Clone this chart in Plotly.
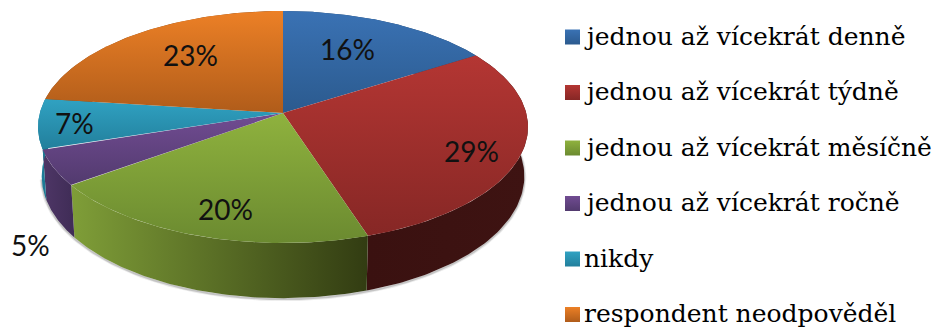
import numpy as np
import plotly.graph_objects as go

categories = ["jednou až vícekrát denně", "jednou až vícekrát týdně", "jednou až vícekrát měsíčně",
              "jednou až vícekrát ročně", "nikdy", "respondent neodpověděl"]
values = [16, 29, 20, 5, 7, 23]
top_light = ["#3a72b4", "#b43633", "#8fb23e", "#714c92", "#30a2c2", "#ec8026"]
top_dark = ["#2b5a8e", "#862725", "#6b8a30", "#523a6e", "#227f9c", "#b05c1a"]
side_left = ["#20446c", "#3a1110", "#7f9e38", "#4e3666", "#1f86a2", "#8a4814"]
side_right = ["#20446c", "#3e1312", "#323c12", "#3f2c56", "#1a7088", "#8a4814"]
label_positions = [(347, 49), (471, 151), (225, 209), (30, 245), (74, 123), (190, 55)]

W, H = 936, 329
CX, CY, A, B, K, DEPTH, BOTTOM_SCALE = 283.0, 113.0, 243.2, 114.3, 0.1207, 48.5, 0.985


def project(theta, lower=False):
    u, v = np.sin(theta), np.cos(theta)
    w = 1 + K * v
    if lower:
        return CX + BOTTOM_SCALE * A * u / w, CY - B * v / w + DEPTH / w
    return CX + A * u / w, CY - B * v / w


fig = go.Figure()
edges = np.radians(np.concatenate([[0], np.cumsum(values)]) * 360 / sum(values))
arcs = [np.linspace(edges[i], edges[i + 1], 90) for i in range(len(values))]

# soft shadow below the rim
shadow_theta = np.linspace(np.radians(85), np.radians(262), 200)
sx, sy = project(shadow_theta, lower=True)
for width, alpha in [(4, 0.10), (2, 0.22)]:
    fig.add_trace(go.Scatter(x=sx, y=sy + 1, mode="lines", hoverinfo="skip",
                             line=dict(color=f"rgba(60,60,60,{alpha})", width=width)))

# side walls
for i, arc in enumerate(arcs):
    tx, ty = project(arc)
    bx, by = project(arc, lower=True)
    fig.add_trace(go.Scatter(
        x=np.concatenate([tx, bx[::-1]]), y=np.concatenate([ty, by[::-1]]),
        mode="lines", line=dict(width=0), fill="toself", hoverinfo="skip",
        fillgradient=dict(type="horizontal",
                          colorscale=[[0, side_left[i]], [1, side_right[i]]])))

# top faces
for i, arc in enumerate(arcs):
    tx, ty = project(arc)
    fig.add_trace(go.Scatter(
        x=np.concatenate([[CX], tx, [CX]]), y=np.concatenate([[CY], ty, [CY]]),
        mode="lines", line=dict(width=0), fill="toself", hoverinfo="skip",
        fillgradient=dict(type="vertical",
                          colorscale=[[0, top_dark[i]], [1, top_light[i]]])))

# percentage labels
for v, (x, y) in zip(values, label_positions):
    fig.add_annotation(x=x, y=y, text=f"{v}%", showarrow=False,
                       font=dict(family="Lato", size=28, color="#111111"))

# legend
legend_y = [37 + 55.5 * i for i in range(len(categories))]
for i, name in enumerate(categories):
    fig.add_trace(go.Scatter(
        x=[572.5], y=[legend_y[i]], mode="markers", hoverinfo="skip",
        marker=dict(symbol="square", size=15, color=top_light[i], line=dict(width=0),
                    gradient=dict(type="vertical", color=top_dark[i]))))
    fig.add_annotation(x=582, y=legend_y[i] - 1, text=name, showarrow=False, xanchor="left",
                       font=dict(family="DejaVu Serif", size=25, color="#000000"))

fig.update_layout(
    width=W, height=H, margin=dict(l=0, r=0, t=0, b=0), showlegend=False,
    paper_bgcolor="white", plot_bgcolor="white",
    xaxis=dict(range=[0, W], visible=False, fixedrange=True),
    yaxis=dict(range=[H, 0], visible=False, fixedrange=True),
)
fig.write_html("out.html", config={"displayModeBar": False, "responsive": False},
               post_script="document.body.style.margin='0';document.body.style.overflow='hidden';")
